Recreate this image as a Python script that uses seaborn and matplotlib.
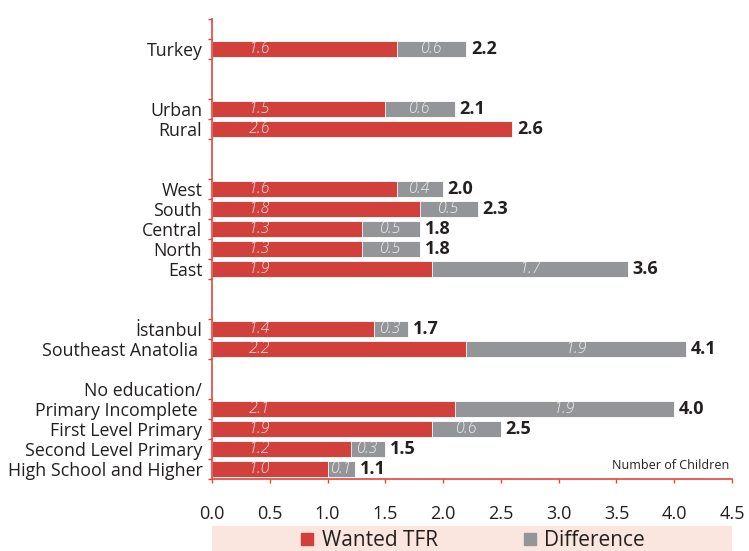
import matplotlib
matplotlib.use("Agg")
import matplotlib.pyplot as plt
import matplotlib.patches as mpatches
from matplotlib.lines import Line2D
import seaborn as sns
import pandas as pd
import numpy as np

# values
categories = ["Turkey", "Urban", "Rural", "West", "South", "Central", "North", "East",
              "İstanbul", "Southeast Anatolia", "Primary Incomplete", "First Level Primary",
              "Second Level Primary", "High School and Higher"]
wanted = [1.6, 1.5, 2.6, 1.6, 1.8, 1.3, 1.3, 1.9, 1.4, 2.2, 2.1, 1.9, 1.2, 1.0]
difference = [0.6, 0.6, 0.0, 0.4, 0.5, 0.5, 0.5, 1.7, 0.3, 1.9, 1.9, 0.6, 0.3, 0.24]
wanted_text = ["1.6", "1.5", "2.6", "1.6", "1.8", "1.3", "1.3", "1.9", "1.4", "2.2", "2.1", "1.9", "1.2", "1.0"]
diff_text = ["0.6", "0.6", "", "0.4", "0.5", "0.5", "0.5", "1.7", "0.3", "1.9", "1.9", "0.6", "0.3", "0.1"]
total_text = ["2.2", "2.1", "2.6", "2.0", "2.3", "1.8", "1.8", "3.6", "1.7", "4.1", "4.0", "2.5", "1.5", "1.1"]

# row layout top to bottom, blank rows separate the groups
row_order = ["Turkey", "_s1", "_s2", "Urban", "Rural", "_s3", "_s4",
             "West", "South", "Central", "North", "East", "_s5", "_s6",
             "İstanbul", "Southeast Anatolia", "_s7", "_s8",
             "Primary Incomplete", "First Level Primary", "Second Level Primary",
             "High School and Higher"]
row_labels = {"_s8": "No education/", "Southeast Anatolia": "Southeast Anatolia ",
              "Primary Incomplete": "Primary Incomplete "}

RED = "#D1403A"
GREY = "#939598"
AXIS_RED = "#E0473C"
TXT = "#231F20"

sns.set_style("white")
plt.rcParams['font.family'] = ['Open Sans', 'DejaVu Sans']

df = pd.DataFrame({"category": categories, "wanted": wanted, "difference": difference})
df["total"] = df["wanted"] + df["difference"]

fig = plt.figure(figsize=(7.49, 5.51), dpi=100)
ax = fig.add_axes([212 / 749, 1 - 479 / 551, 520 / 749, 460 / 551])

sns.barplot(data=df, x="total", y="category", order=row_order, orient="h",
            color=GREY, saturation=1, width=0.8, edgecolor="white", linewidth=0.6, ax=ax)
sns.barplot(data=df, x="wanted", y="category", order=row_order, orient="h",
            color=RED, saturation=1, width=0.8, edgecolor="white", linewidth=0.6, ax=ax)

pos = {c: i for i, c in enumerate(row_order)}
for _, r in df.iterrows():
    i = categories.index(r["category"])
    y = pos[r["category"]]
    ax.text(0.41, y, wanted_text[i], ha="center", va="center", fontsize=11.5,
            style="italic", fontweight="light", color="white", alpha=0.85)
    if diff_text[i]:
        ax.text(r["wanted"] + r["difference"] / 2, y, diff_text[i], ha="center", va="center",
                fontsize=11.5, style="italic", fontweight="light", color="white", alpha=0.85)
    ax.text(r["total"] + 0.04, y, total_text[i], ha="left", va="center", fontsize=13,
            fontweight="bold", color=TXT)

ax.set_xlim(0, 4.5)
ax.set_ylim(21.5, -1.5)
ax.set_xticks(np.arange(0, 4.51, 0.5))
ax.set_xticklabels([f"{v:.1f}" for v in np.arange(0, 4.51, 0.5)], fontsize=13, color=TXT)
ax.set_yticks(range(len(row_order)))
ax.set_yticklabels([row_labels.get(c, "" if c.startswith("_") else c) for c in row_order],
                   fontsize=12.8, color=TXT)
ax.tick_params(axis="y", length=0, pad=7)
ax.tick_params(axis="x", length=3, width=1, color=AXIS_RED, direction="out", pad=16, bottom=True)

# small red marks at the row edges on the left axis
edges = [-1.5]
for c in row_order:
    if not c.startswith("_"):
        edges += [pos[c] - 0.5, pos[c] + 0.5]
ax.set_yticks(sorted(set(edges)), minor=True)
ax.tick_params(axis="y", which="minor", length=3, width=1, color=AXIS_RED, left=True)

ax.set_xlabel("")
ax.set_ylabel("")
for s in ["top", "right"]:
    ax.spines[s].set_visible(False)
for s in ["left", "bottom"]:
    ax.spines[s].set_color(AXIS_RED)
    ax.spines[s].set_linewidth(1.2)

ax.annotate("Number of Children", xy=(1, 0), xycoords="axes fraction", xytext=(-2, 5),
            textcoords="offset points", ha="right", va="bottom", fontsize=9, color=TXT)

# legend band under the axis
fig.patches.append(mpatches.Rectangle((212 / 749, 0), 520 / 749, 25 / 551,
                                      transform=fig.transFigure, facecolor="#FAE6DE",
                                      edgecolor="none", zorder=0))
handles = [Line2D([], [], marker="s", linestyle="none", markersize=8, color=RED),
           Line2D([], [], marker="s", linestyle="none", markersize=8, color=GREY)]
fig.legend(handles, ["Wanted TFR", "Difference"], loc="center",
           bbox_to_anchor=(472 / 749, 10 / 551), ncol=2, frameon=False, fontsize=15,
           handlelength=0.8, handletextpad=0.3, columnspacing=4.0, labelcolor=TXT)

fig.savefig("out.png", dpi=100)
